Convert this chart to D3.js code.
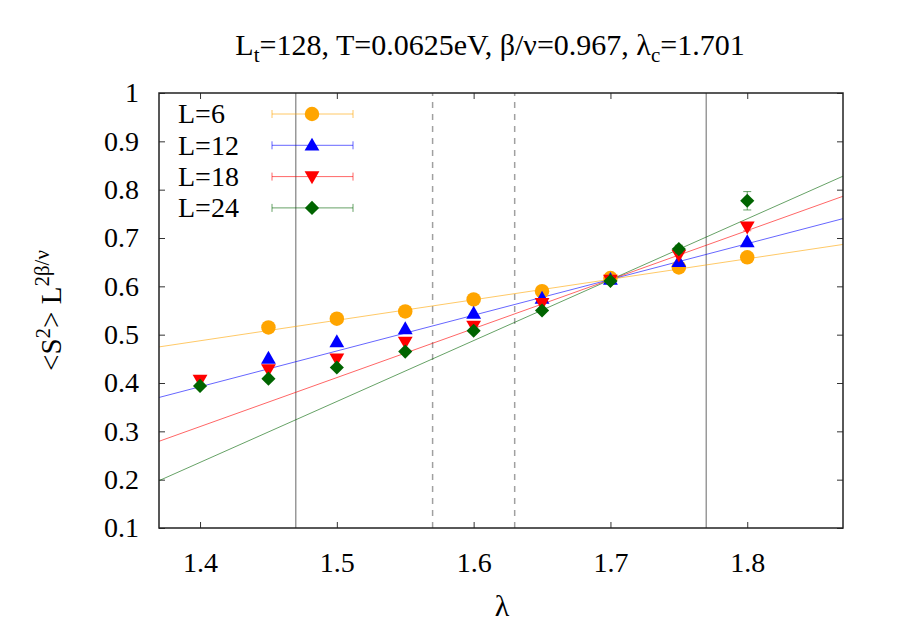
<!DOCTYPE html>
<html>
<head>
<meta charset="utf-8">
<script src="https://d3js.org/d3.v7.min.js"></script>
<style>
  body { margin: 0; background: #fff; }
</style>
</head>
<body>
<script>
// data
const lambdas = [1.40, 1.45, 1.50, 1.55, 1.60, 1.65, 1.70, 1.75, 1.80];
const seriesNames = ["L=6", "L=12", "L=18", "L=24"];
const valsL6  = [null, 0.515, 0.533, 0.548, 0.573, 0.590, 0.617, 0.639, 0.660];
const valsL12 = [null, 0.451, 0.485, 0.512, 0.544, 0.575, 0.614, 0.651, 0.692];
const valsL18 = [0.406, 0.428, 0.450, 0.485, 0.518, 0.565, 0.613, 0.665, 0.723];
const valsL24 = [0.394, 0.409, 0.432, 0.465, 0.508, 0.550, 0.611, 0.677, 0.777];
const errL6   = [0, 0.003, 0.003, 0.003, 0.003, 0.003, 0.003, 0.004, 0.004];
const errL12  = [0, 0.003, 0.003, 0.003, 0.003, 0.003, 0.004, 0.004, 0.005];
const errL18  = [0.003, 0.003, 0.003, 0.003, 0.003, 0.004, 0.004, 0.006, 0.008];
const errL24  = [0.003, 0.003, 0.003, 0.003, 0.004, 0.004, 0.005, 0.008, 0.019];
// linear fits through the crossing point
const lambdaC = 1.701;
const crossValue = 0.615;
const fitSlopes = [0.424, 0.74, 1.014, 1.26];
// reference lines
const solidLines = [1.47, 1.77];
const dashedLines = [1.57, 1.63];
const xTicks = [1.4, 1.5, 1.6, 1.7, 1.8];
const yTicks = [0.1, 0.2, 0.3, 0.4, 0.5, 0.6, 0.7, 0.8, 0.9, 1];

const colors = ["#ffa500", "#0000ff", "#ff0000", "#006400"];
const allVals = [valsL6, valsL12, valsL18, valsL24];
const allErrs = [errL6, errL12, errL18, errL24];

const width = 900, height = 630;
const pLeft = 159, pRight = 843, pTop = 93, pBottom = 528;
const serif = "'Liberation Serif', 'Times New Roman', Times, 'Nimbus Roman', 'DejaVu Serif', serif";

const x = d3.scaleLinear().domain([1.37, 1.87]).range([pLeft, pRight]);
const y = d3.scaleLinear().domain([0.1, 1.0]).range([pBottom, pTop]);

const svg = d3.select("body").append("svg")
    .attr("width", width)
    .attr("height", height)
    .attr("font-family", serif);

// reference vertical lines
svg.selectAll("line.solid")
    .data(solidLines).join("line")
    .attr("x1", d => x(d)).attr("x2", d => x(d))
    .attr("y1", pBottom).attr("y2", pTop)
    .attr("stroke", "#808080").attr("stroke-width", 1.2);
svg.selectAll("line.dashed")
    .data(dashedLines).join("line")
    .attr("x1", d => x(d)).attr("x2", d => x(d))
    .attr("y1", pBottom).attr("y2", pTop)
    .attr("stroke", "#a0a0a0").attr("stroke-width", 1.5)
    .attr("stroke-dasharray", "6,6");

// axes, ticks inside and mirrored
const xAxisB = d3.axisBottom(x).tickValues(xTicks).tickSizeInner(-6).tickSizeOuter(0).tickFormat(d3.format(".1f"));
const xAxisT = d3.axisTop(x).tickValues(xTicks).tickSizeInner(-6).tickSizeOuter(0).tickFormat("");
const yAxisL = d3.axisLeft(y).tickValues(yTicks).tickSizeInner(-6).tickSizeOuter(0).tickFormat(d => d === 1 ? "1" : d3.format(".1f")(d));
const yAxisR = d3.axisRight(y).tickValues(yTicks).tickSizeInner(-6).tickSizeOuter(0).tickFormat("");

function styleAxis(g) {
  g.attr("font-family", serif).attr("font-size", 28);
  g.select(".domain").remove();
  g.selectAll(".tick line").attr("stroke", "#333");
  g.selectAll(".tick text").attr("fill", "#000");
}
svg.append("g").attr("transform", `translate(0,${pBottom})`).call(xAxisB).call(styleAxis)
   .selectAll(".tick text").attr("y", 44).attr("dy", 0);
svg.append("g").attr("transform", `translate(0,${pTop})`).call(xAxisT).call(styleAxis);
svg.append("g").attr("transform", `translate(${pLeft},0)`).call(yAxisL).call(styleAxis)
   .selectAll(".tick text").attr("x", -20);
svg.append("g").attr("transform", `translate(${pRight},0)`).call(yAxisR).call(styleAxis);

// fit lines, clipped to the frame
svg.append("clipPath").attr("id", "clip").append("rect")
    .attr("x", pLeft).attr("y", pTop).attr("width", pRight - pLeft).attr("height", pBottom - pTop);
const fitG = svg.append("g").attr("clip-path", "url(#clip)");
const xd = x.domain();
fitG.selectAll("line")
    .data(fitSlopes).join("line")
    .attr("x1", x(xd[0])).attr("x2", x(xd[1]))
    .attr("y1", s => y(crossValue + s * (xd[0] - lambdaC)))
    .attr("y2", s => y(crossValue + s * (xd[1] - lambdaC)))
    .attr("stroke", (s, i) => colors[i])
    .attr("stroke-opacity", 0.6)
    .attr("stroke-width", 1);

// symbols
const symbols = [
  { type: d3.symbolCircle, size: 165, rot: 0 },
  { type: d3.symbolTriangle, size: 95, rot: 0 },
  { type: d3.symbolTriangle, size: 95, rot: 180 },
  { type: d3.symbolSquare, size: 100, rot: 45 }
];

seriesNames.forEach((name, i) => {
  const pts = lambdas.map((l, j) => ({ l, v: allVals[i][j], e: allErrs[i][j] }))
      .filter(p => p.v !== null);
  const g = svg.append("g");
  // error bars
  g.selectAll("line.err").data(pts.filter(p => p.e > 0.006)).join("line")
      .attr("x1", p => x(p.l)).attr("x2", p => x(p.l))
      .attr("y1", p => y(p.v - p.e)).attr("y2", p => y(p.v + p.e))
      .attr("stroke", colors[i]).attr("stroke-opacity", 0.6);
  g.selectAll("line.cap").data(pts.filter(p => p.e > 0.006).flatMap(p => [p.v - p.e, p.v + p.e].map(v => ({ l: p.l, v })))).join("line")
      .attr("x1", p => x(p.l) - 4).attr("x2", p => x(p.l) + 4)
      .attr("y1", p => y(p.v)).attr("y2", p => y(p.v))
      .attr("stroke", colors[i]).attr("stroke-opacity", 0.6);
  const sym = d3.symbol().type(symbols[i].type).size(symbols[i].size);
  g.selectAll("path").data(pts).join("path")
      .attr("d", sym)
      .attr("transform", p => `translate(${x(p.l)},${y(p.v) + (i === 1 ? 1 : i === 2 ? -1 : 0)}) rotate(${symbols[i].rot})`)
      .attr("fill", colors[i]);
});

// frame
svg.append("rect")
    .attr("x", pLeft).attr("y", pTop).attr("width", pRight - pLeft).attr("height", pBottom - pTop)
    .attr("fill", "none").attr("stroke", "#222").attr("stroke-width", 1.5);

// legend
const legend = svg.append("g");
seriesNames.forEach((name, i) => {
  const ly = 114 + i * 31.3;
  legend.append("text").attr("x", 178).attr("y", ly).attr("dy", "0.33em")
      .attr("font-size", 28).text(name);
  legend.append("line").attr("x1", 272).attr("x2", 353).attr("y1", ly).attr("y2", ly)
      .attr("stroke", colors[i]).attr("stroke-opacity", 0.6);
  [272, 353].forEach(cx => legend.append("line")
      .attr("x1", cx).attr("x2", cx).attr("y1", ly - 4).attr("y2", ly + 4)
      .attr("stroke", colors[i]).attr("stroke-opacity", 0.6));
  legend.append("path")
      .attr("d", d3.symbol().type(symbols[i].type).size(symbols[i].size))
      .attr("transform", `translate(312,${ly + (i === 1 ? 1 : i === 2 ? -1 : 0)}) rotate(${symbols[i].rot})`)
      .attr("fill", colors[i]);
});

// title
const title = svg.append("text").attr("x", 490).attr("y", 55)
    .attr("text-anchor", "middle").attr("font-size", 30);
title.append("tspan").text("L");
title.append("tspan").attr("dy", 7).attr("font-size", 21).text("t");
title.append("tspan").attr("dy", -7).text("=128, T=0.0625eV, β/ν=0.967, λ");
title.append("tspan").attr("dy", 7).attr("font-size", 21).text("c");
title.append("tspan").attr("dy", -7).text("=1.701");

// x label
svg.append("text").attr("x", 502).attr("y", 616)
    .attr("text-anchor", "middle").attr("font-size", 30).text("λ");

// y label
const yl = svg.append("text").attr("transform", `translate(61,${(pTop + pBottom) / 2}) rotate(-90)`)
    .attr("text-anchor", "middle").attr("font-size", 29);
yl.append("tspan").text("<S");
yl.append("tspan").attr("dy", -11).attr("font-size", 21).text("2");
yl.append("tspan").attr("dy", 11).text("> L");
yl.append("tspan").attr("dy", -12).attr("font-size", 21).text("2β/ν");
</script>
</body>
</html>
